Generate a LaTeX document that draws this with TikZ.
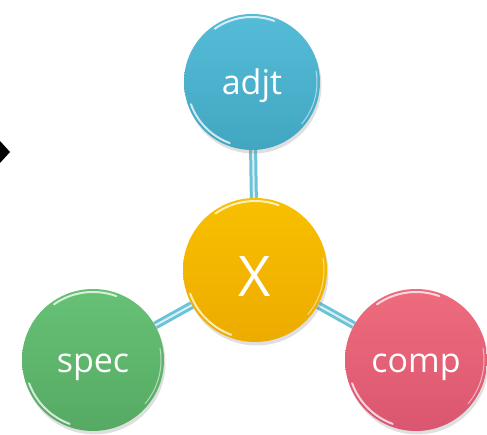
\documentclass[tikz,border=0pt]{standalone}
\usepackage{fontspec}
\setmainfont{Open Sans}
\usetikzlibrary{calc,shadows,backgrounds}
\definecolor{cbluetop}{HTML}{55BCD7}
\definecolor{cbluebot}{HTML}{42A6C1}
\definecolor{ambertop}{HTML}{F8C000}
\definecolor{amberbot}{HTML}{EDAB00}
\definecolor{greentop}{HTML}{66C175}
\definecolor{greenbot}{HTML}{56AA63}
\definecolor{pinktop}{HTML}{EE6C7D}
\definecolor{pinkbot}{HTML}{DA5670}
\definecolor{connc}{HTML}{6BC3D8}
\tikzset{
  ball/.style={circle, minimum size=#1, inner sep=0pt, text=white,
    drop shadow={opacity=0.25, shadow xshift=1.5pt, shadow yshift=-3.5pt}},
  lbl/.style={font=\fontsize{34}{34}\selectfont, text height=26pt, text depth=0pt},
  conn/.style={draw=connc, line width=8pt},
  connin/.style={draw=white!75!connc, line width=2pt},
  gloss/.style={draw=white, line width=2pt, opacity=0.75, line cap=round},
  glossthin/.style={draw=white, line width=1pt, opacity=0.55, line cap=round}
}
\newcommand\shine[2]{%
  \draw[gloss] ($(#1.center)+(125:#2)$) arc (125:70:#2);
  \draw[gloss] ($(#1.center)+(200:#2)$) arc (200:250:#2);
  \draw[glossthin] ($(#1.center)+(10:#2)$) arc (10:-40:#2);
}
\begin{document}
\begin{tikzpicture}[x=1pt,y=1pt]
\useasboundingbox (0,0) rectangle (487,435);
% stray arrow head at the left
\fill[black] (0,294) -- (10,283) -- (0,272) -- cycle;

\node[ball=136pt, shade, top color=cbluetop, bottom color=cbluebot, lbl] (adjt) at (252,353) {adjt};
\node[ball=144pt, shade, top color=ambertop, bottom color=amberbot,
      font=\fontsize{56}{56}\selectfont, text height=54pt, text depth=0pt] (x) at (255,165) {X};
\node[ball=142pt, shade, top color=greentop, bottom color=greenbot, lbl] (spec) at (93,75) {spec};
\node[ball=142pt, shade, top color=pinktop, bottom color=pinkbot, lbl] (comp) at (416,75) {comp};

\begin{scope}[on background layer]
  \foreach \n in {adjt,spec,comp}{
    \draw[conn] (x) -- (\n);
    \draw[connin] (x) -- (\n);
  }
\end{scope}

\shine{adjt}{65}
\shine{x}{69}
\shine{spec}{68}
\shine{comp}{68}
\end{tikzpicture}
\end{document}
